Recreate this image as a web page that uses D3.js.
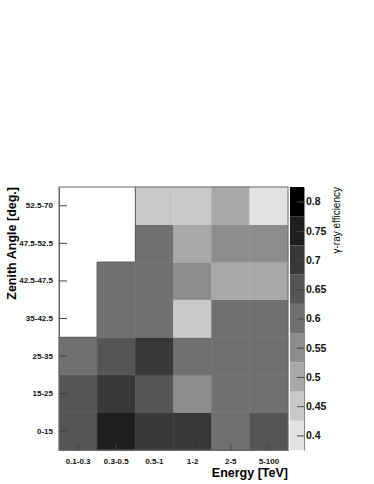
<!DOCTYPE html>
<html>
<head>
<meta charset="utf-8">
<script src="https://cdn.jsdelivr.net/npm/d3@7"></script>
<style>
  body { margin: 0; background: #fff; }
  text { font-family: "Liberation Sans", Arial, sans-serif; }
</style>
</head>
<body>
<div id="chart"></div>
<script>
// categories
const energyBins = ['0.1-0.3', '0.3-0.5', '0.5-1', '1-2', '2-5', '5-100'];
const zenithBins = ['0-15', '15-25', '25-35', '35-42.5', '42.5-47.5', '47.5-52.5', '52.5-70'];

// efficiency per zenith bin (rows, bottom to top), one value per energy bin; null = empty
const eff0to15   = [0.65, 0.75, 0.70, 0.70, 0.60, 0.65];
const eff15to25  = [0.65, 0.70, 0.65, 0.55, 0.60, 0.60];
const eff25to35  = [0.60, 0.65, 0.70, 0.60, 0.60, 0.60];
const eff35to42  = [null, 0.60, 0.60, 0.45, 0.60, 0.60];
const eff42to47  = [null, 0.60, 0.60, 0.55, 0.50, 0.50];
const eff47to52  = [null, null, 0.60, 0.50, 0.55, 0.55];
const eff52to70  = [null, null, 0.45, 0.45, 0.50, 0.40];
const effRows = [eff0to15, eff15to25, eff25to35, eff35to42, eff42to47, eff47to52, eff52to70];

// colour bar ticks
const zTicks = [0.4, 0.45, 0.5, 0.55, 0.6, 0.65, 0.7, 0.75, 0.8];
const zDomain = [0.375, 0.825];
const grays = ['#e2e2e2', '#c8c8c8', '#a8a8a8', '#8c8c8c', '#707070', '#555555', '#383838', '#1e1e1e', '#000000'];

const width = 374, height = 484;
const plot = { left: 59, right: 288, top: 187, bottom: 450 };

const svg = d3.select('#chart').append('svg')
    .attr('width', width)
    .attr('height', height);

const x = d3.scaleBand().domain(energyBins).range([plot.left, plot.right]);
const y = d3.scaleBand().domain(zenithBins).range([plot.bottom, plot.top]);
const color = d3.scaleQuantize().domain(zDomain).range(grays);

// flatten cells
const cells = [];
effRows.forEach(function (row, i) {
    row.forEach(function (v, j) {
        cells.push({ zen: zenithBins[i], en: energyBins[j], i: i, j: j, v: v });
    });
});

svg.append('g').selectAll('rect')
    .data(cells.filter(d => d.v !== null))
    .join('rect')
    .attr('x', d => x(d.en))
    .attr('y', d => y(d.zen))
    .attr('width', x.bandwidth())
    .attr('height', y.bandwidth())
    .attr('fill', d => color(d.v))
    .attr('stroke', d => d3.color(color(d.v)).brighter(0.15))
    .attr('stroke-width', 0.6);

// outline of empty region
const edges = [];
cells.filter(d => d.v === null).forEach(function (d) {
    const x0 = x(d.en), x1 = x0 + x.bandwidth();
    const y0 = y(d.zen), y1 = y0 + y.bandwidth();
    const filled = (i, j) => i >= 0 && i < effRows.length && j >= 0 && j < energyBins.length && effRows[i][j] !== null;
    if (filled(d.i - 1, d.j)) edges.push([x0, y1, x1, y1]);
    if (filled(d.i, d.j + 1)) edges.push([x1, y0, x1, y1]);
});
svg.append('g').selectAll('line')
    .data(edges)
    .join('line')
    .attr('x1', d => d[0]).attr('y1', d => d[1])
    .attr('x2', d => d[2]).attr('y2', d => d[3])
    .attr('stroke', '#555')
    .attr('stroke-width', 1);

// frame
svg.append('rect')
    .attr('x', plot.left)
    .attr('y', plot.top)
    .attr('width', plot.right - plot.left)
    .attr('height', plot.bottom - plot.top)
    .attr('fill', 'none')
    .attr('stroke', '#666')
    .attr('stroke-width', 1);

// x axis
const xAxis = svg.append('g')
    .attr('transform', `translate(0,${plot.bottom})`)
    .call(d3.axisBottom(x).tickSizeInner(-6).tickSizeOuter(0).tickPadding(8));
xAxis.select('.domain').attr('stroke', '#666');
xAxis.selectAll('.tick line').attr('stroke', '#444');
xAxis.selectAll('text')
    .attr('font-size', 8)
    .attr('font-weight', 'bold')
    .attr('fill', '#111');

// y axis
const yAxis = svg.append('g')
    .attr('transform', `translate(${plot.left},0)`)
    .call(d3.axisLeft(y).tickSizeInner(-8).tickSizeOuter(0).tickPadding(6));
yAxis.select('.domain').attr('stroke', '#666');
yAxis.selectAll('.tick line').attr('stroke', '#444');
yAxis.selectAll('text')
    .attr('font-size', 8)
    .attr('font-weight', 'bold')
    .attr('fill', '#111');

// axis titles
svg.append('text')
    .attr('x', plot.right)
    .attr('y', 477)
    .attr('text-anchor', 'end')
    .attr('font-size', 12.5)
    .attr('font-weight', 'bold')
    .text('Energy [TeV]');

svg.append('text')
    .attr('transform', `translate(16,${plot.top}) rotate(-90)`)
    .attr('text-anchor', 'end')
    .attr('font-size', 12.5)
    .attr('font-weight', 'bold')
    .text('Zenith Angle [deg.]');

// colour bar
const cb = { left: 290, right: 304 };
const zScale = d3.scaleLinear().domain(zDomain).range([plot.bottom, plot.top]);
const bands = grays.map(function (g, k) {
    const lo = zDomain[0] + k * (zDomain[1] - zDomain[0]) / grays.length;
    return { lo: lo, hi: lo + (zDomain[1] - zDomain[0]) / grays.length, c: g };
});
svg.append('g').selectAll('rect')
    .data(bands)
    .join('rect')
    .attr('x', cb.left)
    .attr('y', d => zScale(d.hi))
    .attr('width', cb.right - cb.left)
    .attr('height', d => zScale(d.lo) - zScale(d.hi))
    .attr('fill', d => d.c);

const zAxis = svg.append('g')
    .attr('transform', `translate(${cb.right},0)`)
    .call(d3.axisRight(zScale).tickValues(zTicks).tickFormat(d3.format('')).tickSizeInner(-7).tickSizeOuter(0).tickPadding(2));
zAxis.select('.domain').attr('stroke', '#888');
zAxis.selectAll('.tick line').attr('stroke', '#444');
zAxis.selectAll('text')
    .attr('font-size', 10.5)
    .attr('font-weight', 'bold')
    .attr('fill', '#111');

svg.append('text')
    .attr('transform', `translate(340,${plot.top}) rotate(-90)`)
    .attr('text-anchor', 'end')
    .attr('font-size', 10)
    .text('γ-ray efficiency');
</script>
</body>
</html>
